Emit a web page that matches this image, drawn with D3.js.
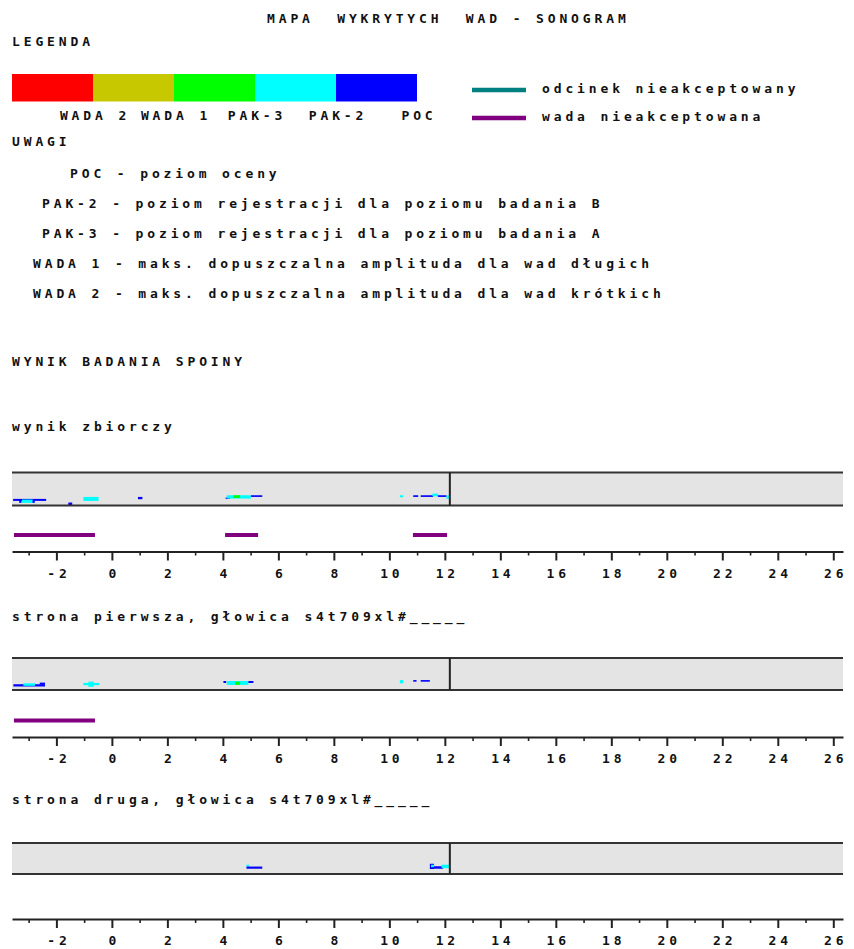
<!DOCTYPE html>
<html>
<head>
<meta charset="utf-8">
<script src="https://cdn.jsdelivr.net/npm/d3@7"></script>
<style>
  body { margin: 0; background: #fff; }
  svg text { font-family: "DejaVu Sans Mono", "Liberation Mono", monospace; font-weight: bold; font-size: 13px; letter-spacing: 3.87px; fill: #111; white-space: pre; }
</style>
</head>
<body>
<svg width="854" height="949"></svg>
<script>
// legend of amplitude levels (left to right on the colour bar)
var legendColors = ["#ff0000", "#c8c800", "#00ff00", "#00ffff", "#0000ff"];
var legendLabels = ["WADA 2", "WADA 1", "PAK-3", "PAK-2", "POC"];

var lineLegend = [
  { text: "odcinek nieakceptowany", color: "#008080" },
  { text: "wada nieakceptowana", color: "#800080" }
];

var notes = [
  "POC - poziom oceny",
  "PAK-2 - poziom rejestracji dla poziomu badania B",
  "PAK-3 - poziom rejestracji dla poziomu badania A",
  "WADA 1 - maks. dopuszczalna amplituda dla wad długich",
  "WADA 2 - maks. dopuszczalna amplituda dla wad krótkich"
];

var captions = [
  "wynik zbiorczy",
  "strona pierwsza, głowica s4t709xl#_____",
  "strona druga, głowica s4t709xl#_____"
];

// axis
var xDomain = [-3.6, 26.35];
var majorTicks = [-2, 0, 2, 4, 6, 8, 10, 12, 14, 16, 18, 20, 22, 24, 26];
var minorTicks = [-3, -1, 1, 3, 5, 7, 9, 11, 13, 15, 17, 19, 21, 23, 25];
var weldEnd = 12.18;

// echoes: [start, end, top %, bottom %, legend colour index]
var blobs1 = [
  [-3.56, -2.37, 80, 86, 4],
  [-3.24, -2.84, 82, 92, 3],
  [-3.34, -3.26, 82, 92, 4],
  [-2.86, -2.78, 82, 92, 4],
  [-1.57, -1.43, 91, 99, 4],
  [-1.03, -0.48, 74, 86, 3],
  [0.94, 1.10, 74, 81, 4],
  [4.10, 4.25, 76, 80, 4],
  [4.14, 5.01, 69, 79, 3],
  [4.37, 4.62, 69, 77, 2],
  [5.01, 5.42, 69, 74, 4],
  [10.38, 10.50, 69, 75, 3],
  [10.86, 11.04, 69, 74, 4],
  [11.13, 11.58, 69, 74, 4],
  [11.55, 11.76, 64, 72, 3],
  [11.75, 12.06, 69, 74, 4],
  [12.06, 12.18, 69, 80, 3]
];
var blobs2 = [
  [-3.55, -2.41, 82, 89, 4],
  [-3.19, -2.77, 79, 87, 3],
  [-2.60, -2.41, 77, 83, 4],
  [-1.03, -0.46, 78, 85, 3],
  [-0.85, -0.65, 74, 90, 3],
  [4.02, 4.12, 72, 78, 4],
  [4.14, 4.92, 72, 84, 3],
  [4.44, 4.62, 74, 84, 2],
  [4.92, 5.10, 72, 78, 4],
  [10.38, 10.50, 69, 79, 3],
  [10.86, 10.98, 69, 74, 4],
  [11.13, 11.46, 69, 74, 4]
];
var blobs3 = [
  [4.85, 4.95, 70, 76, 3],
  [4.85, 5.42, 76, 83, 4],
  [11.46, 11.61, 67, 84, 4],
  [11.50, 11.61, 70, 78, 3],
  [11.61, 11.94, 75, 83, 4],
  [11.88, 12.18, 70, 81, 3]
];

// unacceptable defects (purple) per panel
var defects1 = [[-3.53, -0.61], [4.08, 5.27], [10.85, 12.08]];
var defects2 = [[-3.53, -0.61]];
var defects3 = [];

var svg = d3.select("svg");

var x = d3.scaleLinear().domain(xDomain).range([12, 843]);

// title
svg.append("text").attr("x", 267).attr("y", 23).text("MAPA  WYKRYTYCH  WAD - SONOGRAM");
svg.append("text").attr("x", 12).attr("y", 46).text("LEGENDA");

// colour bar
var lx = d3.scaleLinear().domain([0, legendColors.length]).range([12, 417]);
svg.selectAll("rect.key")
  .data(legendColors)
  .enter().append("rect")
    .attr("class", "key")
    .attr("x", function(d, i) { return lx(i); })
    .attr("y", 74)
    .attr("width", lx(1) - lx(0))
    .attr("height", 27.5)
    .attr("fill", function(d) { return d; });

svg.selectAll("text.keylab")
  .data(legendLabels)
  .enter().append("text")
    .attr("class", "keylab")
    .attr("x", function(d, i) { return lx(i + 1) + 2; })
    .attr("y", 120)
    .attr("text-anchor", "middle")
    .text(function(d) { return d; });

// line legend
var ll = svg.selectAll("g.ll")
  .data(lineLegend)
  .enter().append("g")
    .attr("class", "ll")
    .attr("transform", function(d, i) { return "translate(0," + (90 + i * 28) + ")"; });
ll.append("line")
    .attr("x1", 472).attr("x2", 526)
    .attr("stroke", function(d) { return d.color; })
    .attr("stroke-width", 4.5);
ll.append("text")
    .attr("x", 542).attr("y", 3)
    .text(function(d) { return d.text; });

// notes
svg.append("text").attr("x", 12).attr("y", 146).text("UWAGI");
var noteX = [70, 42, 42, 33, 33];
svg.selectAll("text.note")
  .data(notes)
  .enter().append("text")
    .attr("class", "note")
    .attr("x", function(d, i) { return noteX[i]; })
    .attr("y", function(d, i) { return 178 + i * 30; })
    .text(function(d) { return d; });

svg.append("text").attr("x", 12).attr("y", 366).text("WYNIK BADANIA SPOINY");

// panels
var panels = [
  { caption: captions[0], blobs: blobs1, defects: defects1, capY: 431, top: 472.5, h: 33, axisGap: 79 },
  { caption: captions[1], blobs: blobs2, defects: defects2, capY: 621, top: 658, h: 32, axisGap: 79 },
  { caption: captions[2], blobs: blobs3, defects: defects3, capY: 804, top: 843, h: 31, axisGap: 76 }
];

panels.forEach(function(p) {
  svg.append("text").attr("x", 12).attr("y", p.capY).text(p.caption);

  var y = d3.scaleLinear().domain([0, 100]).range([p.top, p.top + p.h]);
  var g = svg.append("g");

  g.append("rect")
      .attr("x", x.range()[0]).attr("y", y(0))
      .attr("width", x.range()[1] - x.range()[0])
      .attr("height", y(100) - y(0))
      .attr("fill", "#e4e4e4");

  g.selectAll("rect.blob")
    .data(p.blobs)
    .enter().append("rect")
      .attr("class", "blob")
      .attr("x", function(d) { return x(d[0]); })
      .attr("width", function(d) { return x(d[1]) - x(d[0]); })
      .attr("y", function(d) { return y(d[2]); })
      .attr("height", function(d) { return y(d[3]) - y(d[2]); })
      .attr("fill", function(d) { return legendColors[d[4]]; });

  g.selectAll("line.edge")
    .data([0, 100])
    .enter().append("line")
      .attr("class", "edge")
      .attr("x1", x.range()[0]).attr("x2", x.range()[1])
      .attr("y1", y).attr("y2", y)
      .attr("stroke", "#333")
      .attr("stroke-width", 2.2);

  g.append("line")
      .attr("x1", x(weldEnd)).attr("x2", x(weldEnd))
      .attr("y1", y(0)).attr("y2", y(100))
      .attr("stroke", "#222")
      .attr("stroke-width", 2);

  // unacceptable defects
  g.selectAll("line.defect")
    .data(p.defects)
    .enter().append("line")
      .attr("class", "defect")
      .attr("x1", function(d) { return x(d[0]); })
      .attr("x2", function(d) { return x(d[1]); })
      .attr("y1", p.top + 62.5).attr("y2", p.top + 62.5)
      .attr("stroke", "#800080")
      .attr("stroke-width", 4);

  var axisY = p.top + p.axisGap;
  var ax = svg.append("g")
      .attr("transform", "translate(0," + axisY + ")")
      .call(d3.axisBottom(x)
        .tickValues(majorTicks)
        .tickSize(9)
        .tickSizeOuter(0)
        .tickPadding(8)
        .tickFormat(function(d) { return String(d); }));
  ax.select(".domain").attr("stroke", "#222").attr("stroke-width", 2);
  ax.selectAll(".tick line").attr("stroke", "#222").attr("stroke-width", 2);
  ax.selectAll(".tick text")
      .attr("font-family", null).attr("font-size", null)
      .attr("dx", "2px")
      .attr("fill", "#111");
  ax.attr("font-family", null).attr("font-size", null);

  var mn = svg.append("g")
      .attr("transform", "translate(0," + axisY + ")")
      .call(d3.axisBottom(x).tickValues(minorTicks).tickSize(4).tickFormat(""));
  mn.select(".domain").remove();
  mn.selectAll(".tick line").attr("stroke", "#222").attr("stroke-width", 1.6);
});
</script>
</body>
</html>
